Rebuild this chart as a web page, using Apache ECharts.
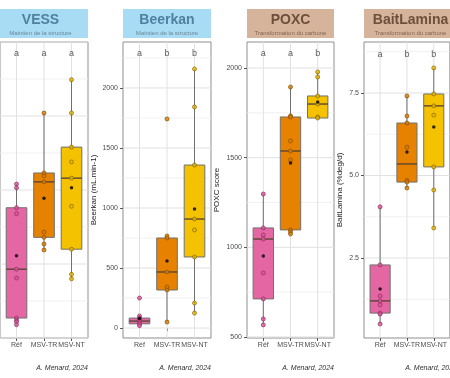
<!DOCTYPE html>
<html><head><meta charset="utf-8">
<script src="https://cdn.jsdelivr.net/npm/echarts@6/dist/echarts.min.js"></script>
<style>html,body{margin:0;padding:0;background:#fff}#c{width:450px;height:378px}</style>
</head><body><div id="c"></div><script>
// ---------- data ----------
const groups = ['Réf', 'MSV-TR', 'MSV-NT'];
const panelTitles = ['VESS', 'Beerkan', 'POXC', 'BaitLamina'];
const panelSubtitles = ['Maintien de la structure', 'Maintien de la structure', 'Transformation du carbone', 'Transformation du carbone'];
const yAxisNames = ['VESS', 'Beerkan (mL.min-1)', 'POXC score', 'BaitLamina (%deg/d)'];
const caption = 'A. Menard, 2024';
const letters = [['a', 'a', 'a'], ['a', 'b', 'b'], ['a', 'a', 'b'], ['a', 'b', 'b']];
const letterY = [4.84, 2283, 2078, 8.68];

// box stats per group: [lower whisker, Q1, median, Q3, upper whisker]
const vessBox = [[1.18, 1.27, 1.93, 2.76, 3.08], [2.19, 2.36, 3.11, 3.23, 4.04], [1.80, 2.20, 3.16, 3.58, 4.49]];
const beerkanBox = [[20, 35, 58, 83, 100], [50, 317, 467, 750, 767], [125, 592, 908, 1358, 2158]];
const poxcBox = [[567, 712, 1046, 1108, 1297], [1074, 1097, 1537, 1727, 1894], [1721, 1721, 1799, 1844, 1978]];
const baitBox = [[0.50, 0.83, 1.20, 2.29, 4.05], [4.62, 4.80, 5.35, 6.59, 7.41], [3.41, 5.26, 7.11, 7.47, 8.26]];

// means per group
const vessMean = [2.11, 2.89, 3.03];
const beerkanMean = [80, 558, 992];
const poxcMean = [952, 1470, 1810];
const baitMean = [1.56, 5.71, 6.47];

// individual observations per group
const vessObs = [[3.08, 3.03, 2.76, 2.68, 1.93, 1.81, 1.27, 1.24, 1.22, 1.18], [4.04, 3.23, 3.19, 3.11, 2.43, 2.36, 2.27, 2.19], [4.49, 4.04, 3.58, 3.38, 3.16, 2.78, 2.20, 1.86, 1.80]];
const beerkanObs = [[250, 100, 83, 70, 58, 45, 35, 20], [1742, 767, 750, 467, 342, 317, 50], [2158, 1842, 1358, 908, 817, 592, 208, 125]];
const poxcObs = [[1297, 1108, 1069, 1046, 857, 712, 600, 567], [1894, 1733, 1727, 1593, 1537, 1487, 1097, 1086, 1074], [1978, 1950, 1844, 1799, 1727, 1721]];
const baitObs = [[4.05, 2.29, 1.35, 1.20, 1.08, 0.83, 0.80, 0.50], [7.41, 6.80, 6.59, 5.86, 4.85, 4.80, 4.62], [8.26, 7.47, 7.11, 6.83, 5.26, 4.56, 3.41]];

// axis ticks
const yMajor = [[1, 2, 3, 4, 5], [0, 500, 1000, 1500, 2000], [500, 1000, 1500, 2000], [2.5, 5.0, 7.5]];
const yMinor = [[1.5, 2.5, 3.5, 4.5], [250, 750, 1250, 1750, 2250], [750, 1250, 1750], [1.25, 3.75, 6.25, 8.75]];
const yRange = [[1, 5], [-83, 2383], [494, 2145], [0.076, 9.045]];
const yDecimals = [0, 0, 0, 1];
const xPos = [1, 2, 3];
const xRange = [0.4, 3.6];

// ---------- layout / style ----------
const gridLeft = [-7, 123, 247, 364];
const gridWidth = [95, 88, 87, 93];
const gridTop = 42, gridHeight = 296;
const nameGaps = [24, 25, 26, 20];
const stripFill = ['#a8dcf4', '#a8dcf4', '#d6b49b', '#d6b49b'];
const stripTitleColor = ['#4f809f', '#4f809f', '#6e4f3b', '#6e4f3b'];
const stripSubColor = ['#6a8796', '#6a8796', '#806452', '#806452'];
const boxFill = ['#e466a2', '#e68200', '#f4c200'];
const pointFill = ['#d9589a', '#d97a00', '#e6b400'];
const pointStroke = ['#8e2f62', '#8a4f00', '#8a6d00'];

const boxes = [vessBox, beerkanBox, poxcBox, baitBox];
const means = [vessMean, beerkanMean, poxcMean, baitMean];
const obs = [vessObs, beerkanObs, poxcObs, baitObs];

const grids = [], xAxes = [], yAxes = [], series = [], graphics = [];
for (let p = 0; p < 4; p++) {
  grids.push({left: gridLeft[p], width: gridWidth[p], top: gridTop, height: gridHeight,
    show: true, backgroundColor: 'transparent', borderColor: '#8f8f8f', borderWidth: 1});
  xAxes.push({type: 'value', gridIndex: p, min: xRange[0], max: xRange[1],
    axisLine: {show: false},
    axisTick: {show: true, length: 3, customValues: xPos, lineStyle: {color: '#555'}},
    axisLabel: {customValues: xPos, margin: 4, fontSize: 7, color: '#4d4d4d', fontFamily: 'Liberation Sans',
      formatter: v => groups[Math.round(v) - 1]},
    splitLine: {show: false}});
  const dec = yDecimals[p];
  yAxes.push({type: 'value', gridIndex: p, min: yRange[p][0], max: yRange[p][1],
    name: p === 0 ? '' : yAxisNames[p], nameLocation: 'middle', nameGap: nameGaps[p], nameRotate: 90,
    nameTextStyle: {fontSize: 8, color: '#222', fontFamily: 'Liberation Sans'},
    axisLine: {show: false},
    axisTick: {show: p !== 0, length: 3, customValues: yMajor[p], lineStyle: {color: '#555'}},
    axisLabel: {show: p !== 0, customValues: yMajor[p], margin: 5, fontSize: 7, color: '#4d4d4d', fontFamily: 'Liberation Sans',
      formatter: v => v.toFixed(dec)},
    splitLine: {show: false}});

  // grid lines (kind 0 = major y, 1 = minor y, 2 = category x)
  const gl = yMajor[p].map(v => [0, v]).concat(yMinor[p].map(v => [1, v]), xPos.map(v => [2, v]));
  const yr = yRange[p];
  series.push({type: 'custom', xAxisIndex: p, yAxisIndex: p, z: 1, silent: true,
    data: gl, encode: {x: 0, y: 1},
    renderItem: (params, api) => {
      const k = api.value(0), v = api.value(1);
      let a, b;
      if (k < 2) { a = api.coord([xRange[0], v]); b = api.coord([xRange[1], v]); }
      else { a = api.coord([v, yr[0]]); b = api.coord([v, yr[1]]); }
      return {type: 'line', shape: {x1: a[0], y1: a[1], x2: b[0], y2: b[1]},
        style: {stroke: k === 1 ? '#ededed' : '#e1e1e1', lineWidth: k === 1 ? 0.8 : 1}};
    }});

  // boxes
  series.push({type: 'custom', xAxisIndex: p, yAxisIndex: p, z: 2, silent: true,
    data: boxes[p].map((b, j) => [xPos[j]].concat(b)),
    encode: {x: 0, y: [1, 2, 3, 4, 5]},
    renderItem: (params, api) => {
      const x = api.value(0);
      const lo = api.coord([x, api.value(1)]);
      const q1 = api.coord([x, api.value(2)]);
      const md = api.coord([x, api.value(3)]);
      const q3 = api.coord([x, api.value(4)]);
      const hi = api.coord([x, api.value(5)]);
      const w = api.size([0.75, 0])[0];
      const c = lo[0];
      return {type: 'group', children: [
        {type: 'line', shape: {x1: c, y1: hi[1], x2: c, y2: lo[1]}, style: {stroke: '#707070', lineWidth: 1}},
        {type: 'rect', shape: {x: c - w / 2, y: q3[1], width: w, height: q1[1] - q3[1]},
          style: {fill: boxFill[params.dataIndex], stroke: '#707070', lineWidth: 1}},
        {type: 'line', shape: {x1: c - w / 2, y1: md[1], x2: c + w / 2, y2: md[1]}, style: {stroke: '#5b4636', lineWidth: 1.4}}
      ]};
    }});
  // observations
  const pts = [];
  obs[p].forEach((arr, j) => arr.forEach(v => pts.push({value: [xPos[j], v],
    itemStyle: {color: pointFill[j], borderColor: pointStroke[j], borderWidth: 0.9}})));
  series.push({type: 'scatter', xAxisIndex: p, yAxisIndex: p, z: 3, silent: true,
    symbol: 'circle', symbolSize: 4, data: pts});
  // means
  series.push({type: 'scatter', xAxisIndex: p, yAxisIndex: p, z: 4, silent: true,
    symbol: 'circle', symbolSize: 3.5, itemStyle: {color: '#000'},
    data: means[p].map((m, j) => [xPos[j], m])});
  // letters
  series.push({type: 'scatter', xAxisIndex: p, yAxisIndex: p, z: 5, silent: true,
    symbolSize: 1, itemStyle: {color: 'transparent'},
    label: {show: true, position: 'inside', formatter: '{b}', fontSize: 9, color: '#333', fontFamily: 'Liberation Sans'},
    data: letters[p].map((l, j) => ({name: l, value: [xPos[j], letterY[p]]}))});

  // strip
  const L = gridLeft[p], R = gridLeft[p] + gridWidth[p], cx = (L + R) / 2;
  graphics.push({type: 'rect', shape: {x: L, y: 9, width: R - L, height: 29}, style: {fill: stripFill[p]}, z: 1});
  graphics.push({type: 'text', x: cx, y: 20, z: 2, style: {text: panelTitles[p], fill: stripTitleColor[p],
    font: 'bold 14px "Liberation Sans"', textAlign: 'center', textVerticalAlign: 'middle'}});
  graphics.push({type: 'text', x: cx, y: 33, z: 2, style: {text: panelSubtitles[p], fill: stripSubColor[p],
    font: '6px "Liberation Sans"', textAlign: 'center', textVerticalAlign: 'middle'}});
  graphics.push({type: 'text', x: R, y: 368, z: 2, style: {text: caption, fill: '#333',
    font: 'italic 7px "Liberation Sans"', textAlign: 'right', textVerticalAlign: 'middle'}});
}

const chart = echarts.init(document.getElementById('c'), null, {renderer: 'canvas'});
chart.setOption({animation: false, backgroundColor: '#fff',
  grid: grids, xAxis: xAxes, yAxis: yAxes, series: series, graphic: graphics});
</script></body></html>
